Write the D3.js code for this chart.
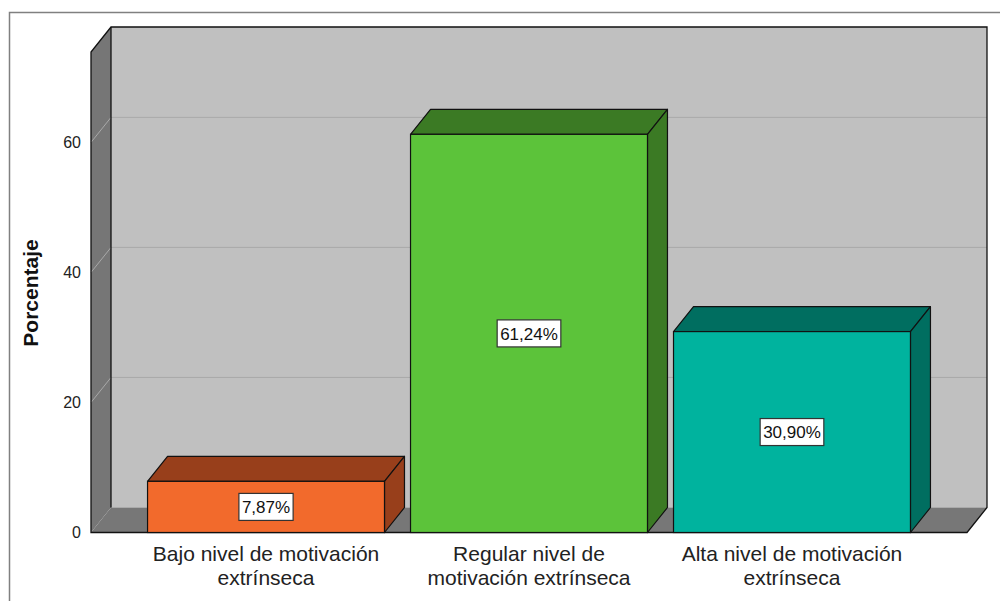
<!DOCTYPE html>
<html>
<head>
<meta charset="utf-8">
<script src="https://cdn.jsdelivr.net/npm/d3@7"></script>
<style>
  body { margin: 0; background: #fff; }
  svg { display: block; font-family: Arial, "Liberation Sans", sans-serif; }
</style>
</head>
<body>
<div id="chart"></div>
<script>
// data
var categories = [
  ['Bajo nivel de motivación', 'extrínseca'],
  ['Regular nivel de', 'motivación extrínseca'],
  ['Alta nivel de motivación', 'extrínseca']
];
var values = [7.87, 61.24, 30.90];
var valueLabels = ['7,87%', '61,24%', '30,90%'];
var yTicks = [0, 20, 40, 60];

var frontColors = ['#f26a2c', '#5cc33a', '#00b39e'];
var darkColors = ['#983f1b', '#3b7a24', '#006e60'];

var W = 1000, H = 601;
var depthX = 20, depthY = 25;

// front plane of the 3D box
var plot = {left: 91, right: 967, top: 52, bottom: 532.5};

var svg = d3.select('#chart').append('svg')
    .attr('width', W)
    .attr('height', H);

// outer frame
svg.append('path')
    .attr('d', 'M9.5,601 L9.5,12.5 L1000,12.5')
    .attr('fill', 'none')
    .attr('stroke', '#808080')
    .attr('stroke-width', 1.5);

var x = d3.scaleBand()
    .domain(d3.range(categories.length))
    .range([plot.left, plot.right])
    .paddingInner(0.099)
    .paddingOuter(0.215);

var y = d3.scaleLinear()
    .domain([0, 73.9])
    .range([plot.bottom, plot.top]);

var y0 = y(0);

// back wall
svg.append('rect')
    .attr('x', plot.left + depthX)
    .attr('y', plot.top - depthY)
    .attr('width', plot.right - plot.left)
    .attr('height', plot.bottom - plot.top)
    .attr('fill', '#c0c0c0');

// side wall
svg.append('path')
    .attr('d', 'M' + plot.left + ',' + plot.top +
        ' L' + (plot.left + depthX) + ',' + (plot.top - depthY) +
        ' L' + (plot.left + depthX) + ',' + (y0 - depthY) +
        ' L' + plot.left + ',' + y0 + ' Z')
    .attr('fill', '#767676');

// floor
svg.append('path')
    .attr('d', 'M' + plot.left + ',' + y0 +
        ' L' + (plot.left + depthX) + ',' + (y0 - depthY) +
        ' L' + (plot.right + depthX) + ',' + (y0 - depthY) +
        ' L' + plot.right + ',' + y0 + ' Z')
    .attr('fill', '#777777');

// gridlines
yTicks.forEach(function(t) {
    if (t === 0) return;
    svg.append('line')
        .attr('x1', plot.left + depthX).attr('x2', plot.right + depthX)
        .attr('y1', y(t) - depthY).attr('y2', y(t) - depthY)
        .attr('stroke', '#a9a9a9').attr('stroke-width', 1);
    svg.append('line')
        .attr('x1', plot.left).attr('x2', plot.left + depthX)
        .attr('y1', y(t)).attr('y2', y(t) - depthY)
        .attr('stroke', '#a9a9a9').attr('stroke-width', 1);
});

// box outline
svg.append('path')
    .attr('d', 'M' + plot.left + ',' + y0 +
        ' L' + plot.left + ',' + plot.top +
        ' L' + (plot.left + depthX) + ',' + (plot.top - depthY) +
        ' L' + (plot.right + depthX) + ',' + (plot.top - depthY) +
        ' L' + (plot.right + depthX) + ',' + (y0 - depthY) +
        ' L' + plot.right + ',' + y0 + ' Z')
    .attr('fill', 'none')
    .attr('stroke', '#111')
    .attr('stroke-width', 1.3);
svg.append('line')
    .attr('x1', plot.left + depthX).attr('x2', plot.left + depthX)
    .attr('y1', plot.top - depthY).attr('y2', y0 - depthY)
    .attr('stroke', '#111').attr('stroke-width', 1.3);

// y tick labels
svg.selectAll('.ytick')
    .data(yTicks)
    .enter().append('text')
    .attr('class', 'ytick')
    .attr('x', 81)
    .attr('y', function(d) { return y(d); })
    .attr('dy', '0.36em')
    .attr('text-anchor', 'end')
    .attr('font-size', 16)
    .attr('fill', '#222')
    .text(function(d) { return d; });

// y axis title
svg.append('text')
    .attr('transform', 'translate(38,' + 293 + ') rotate(-90)')
    .attr('text-anchor', 'middle')
    .attr('font-size', 21)
    .attr('font-weight', 'bold')
    .attr('fill', '#111')
    .text('Porcentaje');

// bars
var bars = svg.selectAll('.bar')
    .data(values)
    .enter().append('g')
    .attr('class', 'bar');

bars.append('path')
    .attr('d', function(d, i) {
        var bx = x(i), bw = x.bandwidth(), by = y(d);
        return 'M' + bx + ',' + by + ' L' + (bx + depthX) + ',' + (by - depthY) +
            ' L' + (bx + bw + depthX) + ',' + (by - depthY) + ' L' + (bx + bw) + ',' + by + ' Z';
    })
    .attr('fill', function(d, i) { return darkColors[i]; })
    .attr('stroke', '#111').attr('stroke-width', 1.2).attr('stroke-linejoin', 'round');

bars.append('path')
    .attr('d', function(d, i) {
        var bx = x(i) + x.bandwidth(), by = y(d);
        return 'M' + bx + ',' + by + ' L' + (bx + depthX) + ',' + (by - depthY) +
            ' L' + (bx + depthX) + ',' + (y0 - depthY) + ' L' + bx + ',' + y0 + ' Z';
    })
    .attr('fill', function(d, i) { return darkColors[i]; })
    .attr('stroke', '#111').attr('stroke-width', 1.2).attr('stroke-linejoin', 'round');

bars.append('rect')
    .attr('x', function(d, i) { return x(i); })
    .attr('y', function(d) { return y(d); })
    .attr('width', x.bandwidth())
    .attr('height', function(d) { return y0 - y(d); })
    .attr('fill', function(d, i) { return frontColors[i]; })
    .attr('stroke', '#111').attr('stroke-width', 1.2);

// value labels: white box sized to the text
var labelH = 27, labelPad = 3;
bars.each(function(d, i) {
    var g = d3.select(this);
    var cx = x(i) + x.bandwidth() / 2;
    var cy = (y(d) + y0) / 2;
    var box = g.append('rect')
        .attr('fill', '#fff')
        .attr('stroke', '#333')
        .attr('stroke-width', 1.2);
    var txt = g.append('text')
        .attr('x', cx)
        .attr('y', cy)
        .attr('dy', '0.36em')
        .attr('text-anchor', 'middle')
        .attr('font-size', 17)
        .attr('fill', '#111')
        .text(valueLabels[i]);
    var tw = txt.node().getComputedTextLength() + 2 * labelPad;
    box.attr('x', cx - tw / 2)
        .attr('y', cy - labelH / 2)
        .attr('width', tw)
        .attr('height', labelH);
});

// category labels, one text per line
categories.forEach(function(lines, i) {
    lines.forEach(function(line, j) {
        svg.append('text')
            .attr('class', 'xlabel')
            .attr('x', x(i) + x.bandwidth() / 2)
            .attr('y', 560.5 + j * 24)
            .attr('text-anchor', 'middle')
            .attr('font-size', 21)
            .attr('fill', '#222')
            .text(line);
    });
});
</script>
</body>
</html>
